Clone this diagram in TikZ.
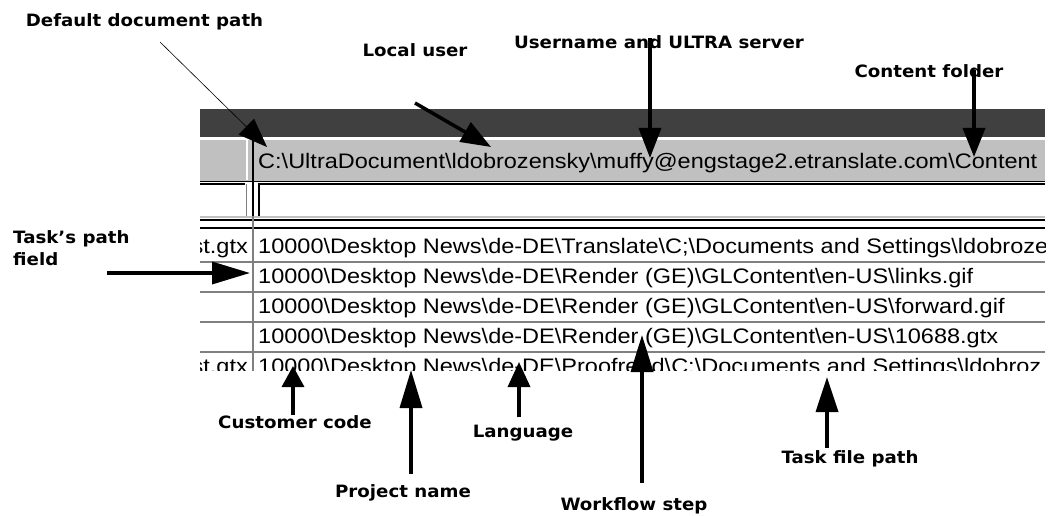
\documentclass[tikz,border=0pt]{standalone}
\usepackage{fontspec}
\usetikzlibrary{arrows.meta}
\newfontfamily\calloutfont{DejaVu Sans}[FakeStretch=1.07]
\newfontfamily\scrfont{Liberation Sans}[FakeStretch=1.12]
\newcommand{\bsl}{\textbackslash}
\definecolor{bardark}{HTML}{404040}
\definecolor{headgray}{HTML}{C0C0C0}
\definecolor{linegray}{HTML}{808080}
\tikzset{
  callout/.style={font=\calloutfont\bfseries\fontsize{17}{22}\selectfont, inner sep=0pt, anchor=base},
  cell/.style={font=\scrfont\fontsize{21}{24}\selectfont, inner sep=0pt, anchor=base west},
  pointer/.style={line width=3.5pt, -{Triangle[length=#1, width=22pt]}},
  pointer/.default=30pt
}
\begin{document}
\begin{tikzpicture}[x=1pt, y=-1pt]
\useasboundingbox (0,0) rectangle (1049,516);
% screenshot of the task list
\begin{scope}
\clip (200,109) rectangle (1045,370);
\fill[bardark] (200,109) rectangle (1045,137);
\fill[headgray] (200,140) rectangle (1045,181);
\draw[white, line width=1.5pt] (247,140) -- (247,180);
\draw[black, line width=1.5pt] (200,181.5) -- (1045,181.5);
\draw[black, line width=1.5pt] (200,184) -- (245,184);
\draw[black, line width=1.5pt] (258,184) -- (1045,184) (259,184) -- (259,216);
\draw[linegray, line width=1pt] (246,184) -- (246,216);
\draw[headgray, line width=1.5pt] (200,217) -- (1045,217);
\draw[black, line width=1.2pt] (200,220) -- (1045,220) (200,228) -- (1045,228);
\foreach \yl in {262,292,322,352}
  \draw[linegray, line width=1.5pt] (200,\yl) -- (1045,\yl);
\draw[black, line width=2pt] (253,140) -- (253,216);
\draw[linegray, line width=2pt] (253,216) -- (253,372);
\node[cell] (header) at (258,168) {C:\bsl UltraDocument\bsl ldobrozensky\bsl muffy@engstage2.etranslate.com\bsl Content};
\node[cell, anchor=base east] (leftA) at (248,253) {st.gtx};
\node[cell, anchor=base east] (leftE) at (248,373) {st.gtx};
\foreach \yb/\txt in {253/{10000\bsl Desktop News\bsl de-DE\bsl Translate\bsl C;\bsl Documents and Settings\bsl ldobroze},
    283/{10000\bsl Desktop News\bsl de-DE\bsl Render (GE)\bsl GLContent\bsl en-US\bsl links.gif},
    313/{10000\bsl Desktop News\bsl de-DE\bsl Render (GE)\bsl GLContent\bsl en-US\bsl forward.gif},
    343/{10000\bsl Desktop News\bsl de-DE\bsl Render (GE)\bsl GLContent\bsl en-US\bsl 10688.gtx},
    373/{10000\bsl Desktop News\bsl de-DE\bsl Proofread\bsl C:\bsl Documents and Settings\bsl ldobroz}}
  \node[cell] (row\yb) at (258,\yb) {\txt};
\end{scope}
% callouts
\node[callout] (defpath) at (144.5,27) {Default document path};
\node[callout] (localuser) at (415,57) {Local user};
\node[callout] (userserver) at (659,49) {Username and ULTRA server};
\node[callout] (contentdir) at (929,78) {Content folder};
\node[callout, anchor=base west, align=left] (pathfield) at (13,265) {Task’s path\\field};
\node[callout] (custcode) at (295,428) {Customer code};
\node[callout] (projname) at (403,497) {Project name};
\node[callout] (lang) at (523,437) {Language};
\node[callout] (wfstep) at (634,510) {Workflow step};
\node[callout] (filepath) at (850,463) {Task file path};
\coordinate (defpathtail) at (160,42);
\coordinate (defpathtip) at (267,147);
\coordinate (localusertail) at (415,103);
\coordinate (localusertip) at (491,147);
\coordinate (userservertip) at (650,158);
\coordinate (contentdirtip) at (974,157);
\coordinate (pathfieldtail) at (107,273);
\coordinate (pathfieldtip) at (250,273);
\coordinate (custcodetip) at (293,366);
\coordinate (projnametip) at (411,370);
\coordinate (langtip) at (519,362);
\coordinate (wfsteptip) at (642,335);
\coordinate (filepathtip) at (827,377);
\draw[pointer=29pt, line width=0.6pt] (defpathtail) -- (defpathtip);
\draw[pointer] (localusertail) -- (localusertip);
\draw[pointer] ([yshift=11pt]userserver.south -| userservertip) -- (userservertip);
\draw[pointer=29pt] ([yshift=8pt]contentdir.south -| contentdirtip) -- (contentdirtip);
\draw[pointer=38pt] (pathfieldtail) -- (pathfieldtip);
\draw[pointer=21pt] (custcode.north -| custcodetip) -- (custcodetip);
\draw[pointer=38pt, shorten <=10pt] (projname.north -| projnametip) -- (projnametip);
\draw[pointer=25pt, shorten <=7pt] (lang.north -| langtip) -- (langtip);
\draw[pointer=37pt, shorten <=14pt] (wfstep.north -| wfsteptip) -- (wfsteptip);
\draw[pointer=35pt, shorten <=2pt] (filepath.north -| filepathtip) -- (filepathtip);
\end{tikzpicture}
\end{document}
